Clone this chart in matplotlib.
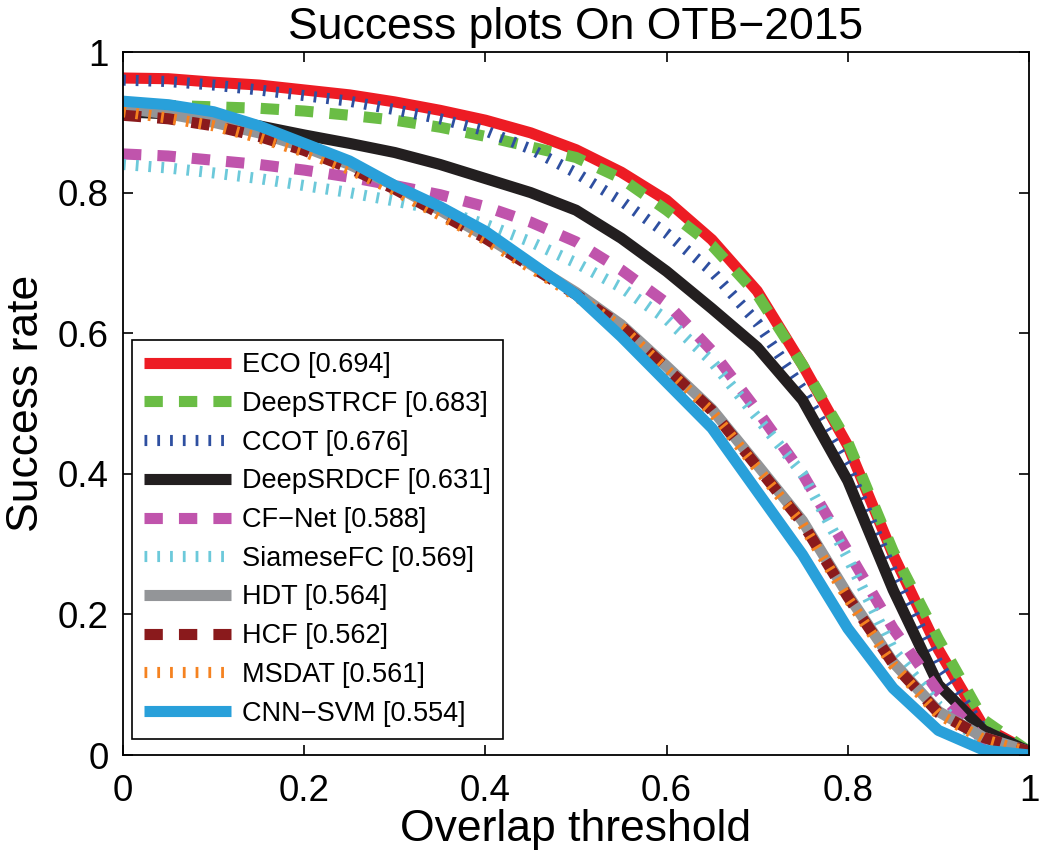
import matplotlib
matplotlib.use("Agg")
import matplotlib.pyplot as plt
import numpy as np

plt.rcParams['font.family'] = ['Liberation Sans', 'DejaVu Sans']

thresholds = [0.00, 0.05, 0.10, 0.15, 0.20, 0.25, 0.30, 0.35, 0.40, 0.45, 0.50,
              0.55, 0.60, 0.65, 0.70, 0.75, 0.80, 0.85, 0.90, 0.95, 1.00]

eco = [0.963, 0.962, 0.957, 0.953, 0.946, 0.939, 0.929, 0.917, 0.903, 0.885, 0.861,
       0.829, 0.789, 0.733, 0.660, 0.555, 0.440, 0.285, 0.150, 0.040, 0.005]
deepstrcf = [0.925, 0.924, 0.922, 0.920, 0.916, 0.910, 0.903, 0.893, 0.880, 0.865, 0.850,
             0.820, 0.775, 0.725, 0.655, 0.555, 0.445, 0.290, 0.165, 0.050, 0.005]
ccot = [0.960, 0.958, 0.953, 0.946, 0.938, 0.930, 0.918, 0.905, 0.888, 0.862, 0.828,
        0.788, 0.742, 0.688, 0.615, 0.520, 0.410, 0.260, 0.130, 0.035, 0.005]
deepsrdcf = [0.915, 0.912, 0.905, 0.895, 0.882, 0.870, 0.857, 0.840, 0.820, 0.800, 0.775,
             0.735, 0.688, 0.635, 0.580, 0.505, 0.390, 0.235, 0.100, 0.035, 0.005]
cfnet = [0.855, 0.852, 0.846, 0.840, 0.832, 0.822, 0.810, 0.797, 0.780, 0.758, 0.730,
         0.690, 0.643, 0.575, 0.490, 0.400, 0.290, 0.180, 0.090, 0.020, 0.005]
siamesefc = [0.840, 0.835, 0.828, 0.820, 0.810, 0.800, 0.788, 0.775, 0.755, 0.730, 0.700,
             0.665, 0.620, 0.560, 0.480, 0.400, 0.280, 0.150, 0.070, 0.015, 0.003]
hdt = [0.920, 0.912, 0.900, 0.885, 0.865, 0.840, 0.810, 0.775, 0.738, 0.698, 0.658,
       0.612, 0.553, 0.492, 0.413, 0.333, 0.228, 0.132, 0.062, 0.025, 0.005]
hcf = [0.910, 0.905, 0.895, 0.880, 0.860, 0.835, 0.805, 0.770, 0.735, 0.695, 0.655,
       0.610, 0.550, 0.490, 0.410, 0.330, 0.225, 0.130, 0.060, 0.025, 0.005]
msdat = [0.915, 0.906, 0.895, 0.878, 0.858, 0.833, 0.803, 0.768, 0.733, 0.693, 0.653,
         0.608, 0.548, 0.488, 0.408, 0.328, 0.223, 0.128, 0.058, 0.022, 0.004]
cnnsvm = [0.930, 0.925, 0.915, 0.895, 0.870, 0.845, 0.810, 0.780, 0.745, 0.700, 0.655,
          0.595, 0.530, 0.465, 0.375, 0.285, 0.180, 0.095, 0.035, 0.007, 0.000]

labels = ['ECO [0.694]', 'DeepSTRCF [0.683]', 'CCOT [0.676]', 'DeepSRDCF [0.631]',
          'CF\u2212Net [0.588]', 'SiameseFC [0.569]', 'HDT [0.564]', 'HCF [0.562]',
          'MSDAT [0.561]', 'CNN\u2212SVM [0.554]']
series = [eco, deepstrcf, ccot, deepsrdcf, cfnet, siamesefc, hdt, hcf, msdat, cnnsvm]
colors = ['#ED1C24', '#6ABD45', '#2E4FA0', '#231F20', '#C054AC', '#6CC9DA',
          '#939598', '#8A1A1C', '#F58220', '#29A0DA']
SOLID = 'solid'
DASH = (0, (1.65, 1.45))
DOT = (0, (0.25, 0.9))
styles = [SOLID, DASH, DOT, SOLID, DASH, DOT, SOLID, DASH, DOT, SOLID]

fig = plt.figure(figsize=(10.41, 8.55), dpi=100)
ax = fig.add_axes([123/1041, 100/855, 906/1041, 703/855])

lw = 8.0
for y, lab, c, ls in zip(series, labels, colors, styles):
    ax.plot(thresholds, y, color=c, linestyle=ls, linewidth=lw, label=lab,
            solid_capstyle='butt', dash_capstyle='butt', solid_joinstyle='round')

ax.set_xlim(0, 1)
ax.set_ylim(0, 1)
ticks = [0, 0.2, 0.4, 0.6, 0.8, 1]
ticklabels = ['0', '0.2', '0.4', '0.6', '0.8', '1']
ax.set_xticks(ticks)
ax.set_xticklabels(ticklabels)
ax.set_yticks(ticks)
ax.set_yticklabels(ticklabels)
ax.tick_params(direction='in', length=7, width=1.2, top=True, right=True,
               labelsize=26.5)
ax.tick_params(axis='x', pad=14)
ax.tick_params(axis='y', pad=10)
for sp in ax.spines.values():
    sp.set_linewidth(1.3)

ax.set_title('Success plots On OTB\u22122015', fontsize=32, pad=9)
ax.set_xlabel('Overlap threshold', fontsize=32, labelpad=0)
ax.set_ylabel('Success rate', fontsize=32, labelpad=8)

leg = ax.legend(loc='lower left', bbox_to_anchor=(0.010, 0.023), borderaxespad=0,
                fontsize=19.5, handlelength=3.2, handletextpad=0.4,
                labelspacing=0.47, borderpad=0.45, fancybox=False,
                edgecolor='black', framealpha=1)
leg.get_frame().set_linewidth(1.2)

fig.savefig('out.png', dpi=100)
